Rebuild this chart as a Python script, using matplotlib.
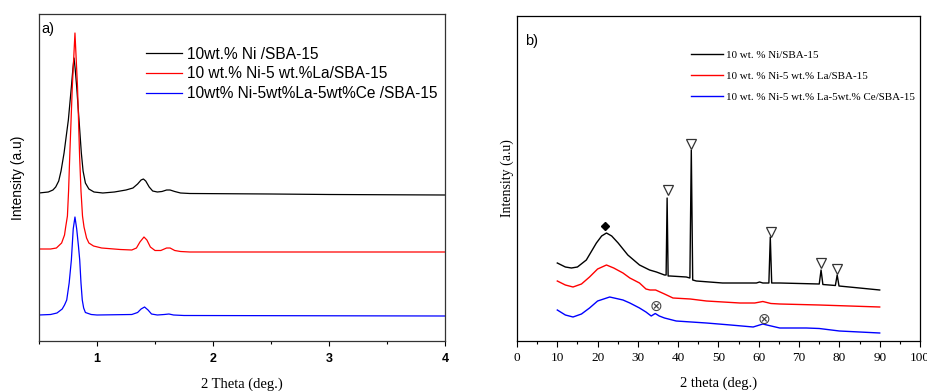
import numpy as np
import matplotlib
matplotlib.use('Agg')
import matplotlib.pyplot as plt
from matplotlib.ticker import MultipleLocator

# ---- panel a) low-angle XRD (arbitrary units) ----
a_labels = ['10wt.% Ni /SBA-15', '10 wt.% Ni-5 wt.%La/SBA-15', '10wt% Ni-5wt%La-5wt%Ce /SBA-15']

a_black_x = [0.50, 0.58, 0.62, 0.644, 0.67, 0.69, 0.716, 0.735, 0.753, 0.779, 0.792, 0.802, 0.812,
             0.825, 0.845, 0.865, 0.88, 0.90, 0.93, 0.974, 1.05, 1.15, 1.25, 1.31, 1.35, 1.38, 1.40,
             1.42, 1.45, 1.48, 1.52, 1.56, 1.60, 1.63, 1.67, 1.72, 1.80, 2.5, 3.0, 4.0]
a_black_y = [148, 149, 151, 154, 160, 170, 188, 205, 221, 254, 272, 283, 272,
             254, 221, 188, 170, 158, 152, 149, 148, 149, 151, 153, 157, 161, 162,
             160, 154, 150, 149, 149.5, 151, 151, 149.5, 148, 147.5, 147, 146.5, 146]

a_red_x = [0.50, 0.60, 0.65, 0.695, 0.72, 0.73, 0.745, 0.755, 0.765, 0.787, 0.81, 0.832, 0.85,
           0.862, 0.875, 0.888, 0.91, 0.93, 0.97, 1.04, 1.2, 1.3, 1.34, 1.37, 1.405, 1.43, 1.46,
           1.50, 1.55, 1.60, 1.63, 1.67, 1.72, 1.80, 4.0]
a_red_y = [92, 92, 93, 98, 106, 114, 125, 150, 185, 254, 308, 254, 185,
           150, 125, 114, 103, 98, 95, 93, 91.5, 91, 93, 99, 104, 101, 94,
           90.5, 90.5, 93, 93, 90.5, 89.5, 89, 89]

a_blue_x = [0.50, 0.60, 0.655, 0.70, 0.72, 0.739, 0.76, 0.779, 0.795, 0.81, 0.825, 0.84, 0.851,
            0.862, 0.873, 0.885, 0.90, 0.95, 1.0, 1.3, 1.35, 1.38, 1.41, 1.44, 1.47, 1.52, 1.58,
            1.62, 1.66, 1.75, 4.0]
a_blue_y = [26, 26.5, 28, 32, 36, 41, 58, 81, 112, 124, 112, 95, 81,
            58, 41, 33, 28.5, 26.5, 26, 26.5, 28.5, 32, 34, 31, 27, 26, 26.5,
            27, 26, 25.5, 25]

# ---- panel b) wide-angle XRD ----
b_labels = ['10 wt. % Ni/SBA-15', '10 wt. % Ni-5 wt.% La/SBA-15', '10 wt. % Ni-5 wt.% La-5wt.% Ce/SBA-15']

b_black_x = [10, 11, 12, 13.5, 15, 17.2, 19.7, 21, 22.2, 23.5, 25.1, 27.5, 30.4, 32.9, 34.6, 36.6,
             37.0, 37.25, 37.5, 38, 42.0, 42.9, 43.25, 43.6, 44.5, 51, 59.4, 60.2, 61, 62.5, 62.85,
             63.2, 65.2, 75.0, 75.45, 75.9, 79.0, 79.45, 79.9, 85, 90]
b_black_y = [78, 76, 74, 73, 74, 81, 98, 105, 108, 105, 98, 86, 76, 71, 69, 66,
             66, 143, 65, 65, 64, 63, 191, 61, 60, 58, 58, 59, 58, 58, 104,
             58, 58, 57, 71, 56.5, 55.5, 66, 55, 53, 51]

b_red_x = [10, 12, 13.9, 16, 18, 20, 22.2, 24, 26.3, 28, 30.4, 32, 33, 34.4, 35.5, 36.6, 38.7, 43,
           47, 55.3, 59, 61, 63, 65.2, 75, 90]
b_red_y = [60, 56, 54, 57, 64, 72, 76, 73, 68, 63, 58, 52, 51, 51, 49, 47, 43, 42,
           40, 38, 38, 39.5, 37.5, 37, 36, 34]

b_blue_x = [10, 12, 13.9, 16, 18, 20, 23, 26.3, 28, 30.4, 32, 33.3, 34.3, 35.3, 36.6, 39.5, 47, 53,
            58.6, 61, 62, 65.2, 71.8, 75, 80, 90]
b_blue_y = [31, 26, 24, 27, 33, 40, 44, 41, 38, 33, 29, 25, 27.5, 25, 23, 20, 18, 16,
            14, 17, 16, 13, 13, 12.5, 10, 8]

# peak markers
diamond_x, diamond_y = [21.8], [115]
tri_x = [37.4, 43.3, 63.1, 75.5, 79.4]
tri_y = [151, 197, 109, 78, 72]
otimes_x = [34.4, 61.2]
otimes_y = [35, 22]

colors = ['black', 'red', 'blue']
sans = 'Liberation Sans'
serif = 'Liberation Serif'

fig = plt.figure(figsize=(9.28, 3.91), dpi=100)

# ---------------- panel a ----------------
ax = fig.add_axes([39 / 928, 50 / 391, 406 / 928, 327 / 391])
for xs, ys, c, lab in zip([a_black_x, a_red_x, a_blue_x], [a_black_y, a_red_y, a_blue_y], colors, a_labels):
    ax.plot(xs, ys, color=c, lw=0.9, label=lab)
ax.set_xlim(0.5, 4)
ax.set_ylim(0, 327)
ax.set_yticks([])
ax.xaxis.set_major_locator(MultipleLocator(1))
ax.xaxis.set_minor_locator(MultipleLocator(0.5))
ax.tick_params(axis='x', which='major', direction='out', length=3.5, width=0.8, pad=5, labelsize=9)
ax.tick_params(axis='x', which='minor', direction='out', length=2, width=0.8)
for t in ax.get_xticklabels():
    t.set_fontfamily(sans)
    t.set_fontweight('bold')
for s in ax.spines.values():
    s.set_color('#333333')
    s.set_linewidth(0.9)
ax.set_xlabel('2 Theta (deg.)', fontfamily=serif, fontsize=10.5, labelpad=9)
ax.set_ylabel('Intensity (a.u)', fontfamily=sans, fontsize=10, labelpad=10)
ax.text(0.006, 0.975, 'a)', transform=ax.transAxes, fontfamily=sans, fontsize=10.5, va='top', ha='left')
ax.legend(loc='upper left', bbox_to_anchor=(0.2635, 0.90), frameon=False, borderpad=0, borderaxespad=0,
          handlelength=2.3, handletextpad=0.33, labelspacing=0.3, prop={'family': sans, 'size': 11.2})

# ---------------- panel b ----------------
bx = fig.add_axes([517 / 928, 50 / 391, 403 / 928, 325 / 391])
for xs, ys, c, lab in zip([b_black_x, b_red_x, b_blue_x], [b_black_y, b_red_y, b_blue_y], colors, b_labels):
    bx.plot(xs, ys, color=c, lw=1.0, label=lab)
bx.plot(diamond_x, diamond_y, 'D', color='black', markersize=4)
bx.plot(tri_x, tri_y, 'v', markerfacecolor='white', markeredgecolor='#333333', markersize=7, markeredgewidth=0.9)
for x, y in zip(otimes_x, otimes_y):
    bx.text(x, y, '\u2297', ha='center', va='center', fontsize=11, color='#444444', fontfamily='DejaVu Sans')
bx.set_xlim(0, 100)
bx.set_ylim(0, 325)
bx.set_yticks([])
bx.xaxis.set_major_locator(MultipleLocator(10))
bx.xaxis.set_minor_locator(MultipleLocator(5))
bx.tick_params(axis='x', which='major', direction='out', length=4, width=0.8, pad=4, labelsize=9.5)
bx.tick_params(axis='x', which='minor', direction='out', length=2.5, width=0.8)
for t in bx.get_xticklabels():
    t.set_fontfamily(serif)
for s in bx.spines.values():
    s.set_linewidth(0.9)
bx.set_xlabel('2 theta (deg.)', fontfamily=serif, fontsize=10.5, labelpad=9)
bx.set_ylabel('Intensity (a.u)', fontfamily=serif, fontsize=10, labelpad=2)
bx.text(0.02, 0.945, 'b)', transform=bx.transAxes, fontfamily=sans, fontsize=10.5, va='top', ha='left')
bx.legend(loc='upper left', bbox_to_anchor=(0.431, 0.895), frameon=False, borderpad=0, borderaxespad=0,
          handlelength=2.9, handletextpad=0.28, labelspacing=1.05, prop={'family': serif, 'size': 7.9})

fig.savefig('out.png', dpi=100)
